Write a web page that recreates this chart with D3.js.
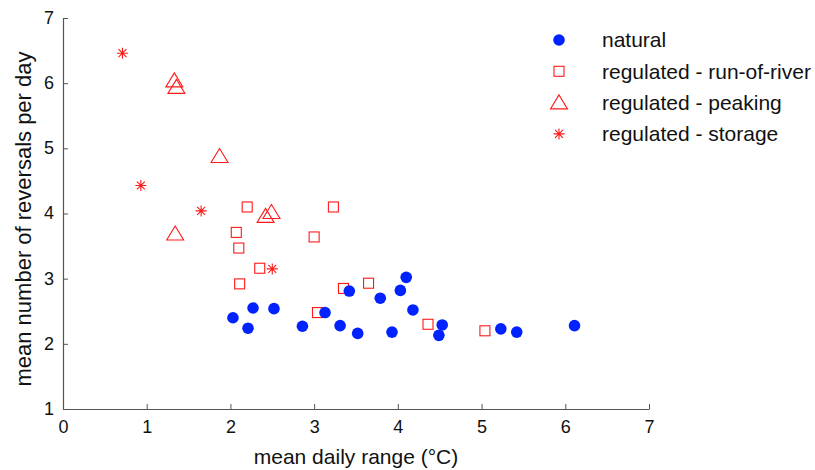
<!DOCTYPE html>
<html>
<head>
<meta charset="utf-8">
<script src="https://cdn.jsdelivr.net/npm/d3@7"></script>
<style>
  body { margin: 0; background: #fff; }
  text { font-family: "Liberation Sans", Arial, sans-serif; fill: #111; }
</style>
</head>
<body>
<svg id="chart" width="815" height="470"></svg>
<script>
// Mean daily range (°C) vs. mean reversals per day, by river type
const naturalX = [2.03, 2.21, 2.27, 2.52, 2.86, 3.13, 3.31, 3.42, 3.52, 3.79, 3.93, 4.03, 4.10, 4.18, 4.49, 4.53, 5.23, 5.42, 6.11];
const naturalY = [2.40, 2.24, 2.55, 2.54, 2.27, 2.48, 2.28, 2.81, 2.16, 2.70, 2.18, 2.82, 3.02, 2.52, 2.13, 2.29, 2.23, 2.18, 2.28];

const runOfRiverX = [2.20, 3.23, 2.07, 3.00, 2.10, 2.35, 2.11, 3.35, 3.04, 3.65, 4.36, 5.04];
const runOfRiverY = [4.10, 4.10, 3.71, 3.64, 3.47, 3.16, 2.92, 2.85, 2.48, 2.93, 2.30, 2.20];

const peakingX = [1.33, 1.355, 1.87, 2.42, 2.49, 1.34];
const peakingY = [6.04, 5.94, 4.88, 3.96, 4.02, 3.69];

const storageX = [0.71, 0.93, 1.65, 2.50];
const storageY = [6.46, 4.43, 4.04, 3.15];

const xTicks = [0, 1, 2, 3, 4, 5, 6, 7];
const yTicks = [1, 2, 3, 4, 5, 6, 7];
const legendLabels = ["natural", "regulated - run-of-river", "regulated - peaking", "regulated - storage"];

const svg = d3.select("#chart");
const margin = { left: 63, right: 166, top: 18, bottom: 61 };
const W = 815, H = 470;

const x = d3.scaleLinear().domain([0, 7]).range([margin.left, W - margin.right]);
const y = d3.scaleLinear().domain([1, 7]).range([H - margin.bottom, margin.top]);

const axisColor = "#555";
const fmt = d3.format("d");

// axes with inward ticks
const gx = svg.append("g").attr("transform", `translate(0,${y(1)})`)
  .call(d3.axisBottom(x).tickValues(xTicks).tickFormat(fmt).tickSize(-5).tickPadding(10).tickSizeOuter(0));
const gy = svg.append("g").attr("transform", `translate(${x(0)},0)`)
  .call(d3.axisLeft(y).tickValues(yTicks).tickFormat(fmt).tickSize(-5).tickPadding(9).tickSizeOuter(0));
[gx, gy].forEach(g => {
  g.select(".domain").attr("stroke", axisColor).attr("stroke-width", 1.2);
  g.selectAll(".tick line").attr("stroke", axisColor);
  g.selectAll(".tick text").attr("font-size", 18).attr("font-family", "Liberation Sans, Arial, sans-serif").attr("fill", "#111");
});
gx.selectAll(".tick text").attr("dy", "0.75em");
gy.selectAll(".tick text").attr("dy", "0.3em");

svg.append("text").attr("x", (x(0) + x(7)) / 2).attr("y", 464)
  .attr("text-anchor", "middle").attr("font-size", 21).text("mean daily range (°C)");
svg.append("text").attr("transform", `translate(31,219) rotate(-90)`)
  .attr("text-anchor", "middle").attr("font-size", 22).text("mean number of reversals per day");

const red = "#ff1a1a", blue = "#0022ff";

// marker drawers
function dot(g, cx, cy) {
  g.append("circle").attr("cx", cx).attr("cy", cy).attr("r", 5.8).attr("fill", blue);
}
function square(g, cx, cy) {
  const s = 10;
  g.append("rect").attr("x", cx - s / 2).attr("y", cy - s / 2).attr("width", s).attr("height", s)
    .attr("fill", "none").attr("stroke", red).attr("stroke-width", 1.1);
}
function triangle(g, cx, cy) {
  const w = 17, h = 14;
  const pts = [[cx, cy - h * 0.55], [cx - w / 2, cy + h * 0.45], [cx + w / 2, cy + h * 0.45]];
  g.append("path").attr("d", d3.line()(pts) + "Z")
    .attr("fill", "none").attr("stroke", red).attr("stroke-width", 1.1);
}
function star(g, cx, cy) {
  const r = 5.5, d = r * 0.72;
  const p = d3.path();
  p.moveTo(cx - r, cy); p.lineTo(cx + r, cy);
  p.moveTo(cx, cy - r); p.lineTo(cx, cy + r);
  p.moveTo(cx - d, cy - d); p.lineTo(cx + d, cy + d);
  p.moveTo(cx - d, cy + d); p.lineTo(cx + d, cy - d);
  g.append("path").attr("d", p.toString()).attr("stroke", red).attr("stroke-width", 1.1).attr("fill", "none");
}

const marks = svg.append("g");
runOfRiverX.forEach((v, i) => square(marks, x(v), y(runOfRiverY[i])));
peakingX.forEach((v, i) => triangle(marks, x(v), y(peakingY[i])));
storageX.forEach((v, i) => star(marks, x(v), y(storageY[i])));
naturalX.forEach((v, i) => dot(marks, x(v), y(naturalY[i])));

// legend
const drawers = [dot, square, triangle, star];
const leg = svg.append("g");
legendLabels.forEach((lab, i) => {
  const ly = 40 + i * 31.3;
  drawers[i](leg.append("g"), 559, ly);
  leg.append("text").attr("x", 602).attr("y", ly).attr("dy", "0.35em")
    .attr("font-size", 21).text(lab);
});
</script>
</body>
</html>
